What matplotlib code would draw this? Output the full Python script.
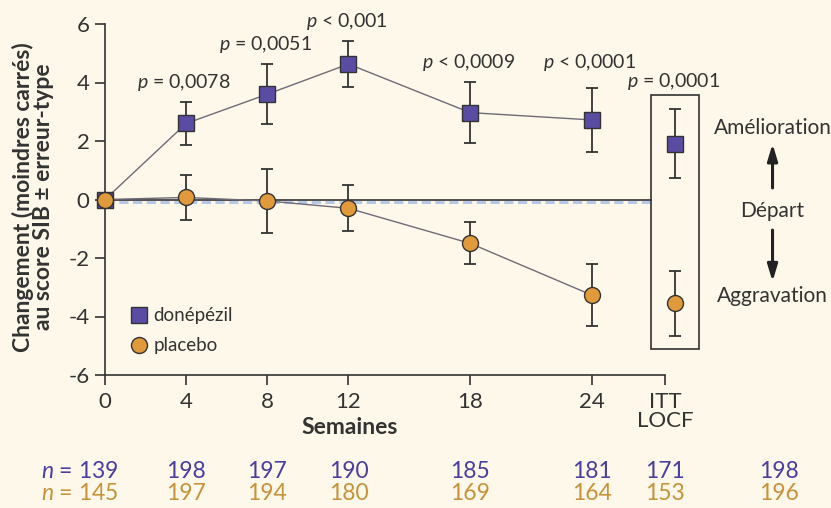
import matplotlib
matplotlib.use("Agg")
import matplotlib.pyplot as plt
import matplotlib.transforms as mtransforms
from matplotlib.patches import Rectangle

plt.rcParams["font.family"] = ["Lato", "DejaVu Sans"]
plt.rcParams["mathtext.fontset"] = "custom"
plt.rcParams["mathtext.it"] = "Lato:italic"
plt.rcParams["mathtext.rm"] = "Lato"

# ── données ─────────────────────────────────────────────
semaines = [0, 4, 8, 12, 18, 24]
donepezil = [0.0, 2.6, 3.6, 4.63, 2.97, 2.72]
donepezil_err = [0.0, 0.75, 1.02, 0.8, 1.05, 1.1]
placebo = [0.0, 0.07, -0.05, -0.3, -1.5, -3.27]
placebo_err = [0.0, 0.78, 1.08, 0.78, 0.72, 1.05]

itt_donepezil, itt_donepezil_err = 1.9, 1.18
itt_placebo, itt_placebo_err = -3.55, 1.1

p_labels = ["$p$ = 0,0078", "$p$ = 0,0051", "$p$ < 0,001",
            "$p$ < 0,0009", "$p$ < 0,0001", "$p$ = 0,0001"]

n_donepezil = ["139", "198", "197", "190", "185", "181", "171", "198"]
n_placebo = ["145", "197", "194", "180", "169", "164", "153", "196"]

# positions (layout)
x_itt_tick = 27.6
x_itt = 28.1
x_droite = 32.9
p_pos = [(3.9, 4.0), (7.9, 5.3), (11.9, 6.1), (17.9, 4.7), (23.9, 4.7), (28.0, 4.05)]
n_x = semaines + [x_itt_tick, 33.2]

VIOLET = "#5A4BA3"
ORANGE = "#E09A3B"
TXT_V = "#4A3E9E"
TXT_O = "#C8923A"
GRIS = "#333333"
FOND = "#FEF8EA"

fig = plt.figure(figsize=(8.31, 5.08), dpi=100, facecolor=FOND)
ax = fig.add_axes([105 / 831, 1 - 375 / 508, 560 / 831, 351 / 508])
ax.set_facecolor(FOND)
ax.set_xlim(0, x_itt_tick)
ax.set_ylim(-6, 6)

# lignes de départ
ax.plot([0, 26.9], [-0.1, -0.1], color="#B5C8E6", lw=2.2, ls=(0, (3, 1.5)), zorder=1, clip_on=False)
ax.plot([0, 26.9], [0, 0], color=GRIS, lw=1.2, zorder=2, clip_on=False)

# séries
ax.plot(semaines, donepezil, color="#6E6A78", lw=1, zorder=3)
ax.plot(semaines, placebo, color="#6E6A78", lw=1, zorder=3)
ax.errorbar(semaines[1:] + [x_itt], donepezil[1:] + [itt_donepezil],
            yerr=donepezil_err[1:] + [itt_donepezil_err], fmt="none",
            ecolor=GRIS, elinewidth=1.3, capsize=4, capthick=1.3, zorder=4, clip_on=False)
ax.errorbar(semaines[1:] + [x_itt], placebo[1:] + [itt_placebo],
            yerr=placebo_err[1:] + [itt_placebo_err], fmt="none",
            ecolor=GRIS, elinewidth=1.3, capsize=4, capthick=1.3, zorder=4, clip_on=False)
ax.plot(semaines + [x_itt], donepezil + [itt_donepezil], ls="none", marker="s", ms=11,
        mfc=VIOLET, mec=GRIS, mew=1, zorder=5, clip_on=False)
ax.plot(semaines + [x_itt], placebo + [itt_placebo], ls="none", marker="o", ms=11.5,
        mfc=ORANGE, mec=GRIS, mew=1, zorder=6, clip_on=False)

# cadre ITT/LOCF
ax.add_patch(Rectangle((26.9, -5.11), 2.36, 8.68, fill=False, ec=GRIS, lw=1.2, clip_on=False))

# valeurs p
for (px, py), lab in zip(p_pos, p_labels):
    ax.text(px, py, lab, ha="center", va="center", fontsize=14, color=GRIS, clip_on=False)

# axes
for s in ["top", "right"]:
    ax.spines[s].set_visible(False)
for s in ["left", "bottom"]:
    ax.spines[s].set_color(GRIS)
    ax.spines[s].set_linewidth(1.2)
ax.set_xticks(semaines + [x_itt_tick])
ax.set_xticklabels([str(s) for s in semaines] + ["ITT\nLOCF"])
ax.set_yticks([-6, -4, -2, 0, 2, 4, 6])
ax.set_yticklabels(["-6", "-4", "-2", "0", "2", "4", "6"])
ax.tick_params(colors=GRIS, labelcolor=GRIS, labelsize=16, length=7, width=1.2, direction="out")
ax.tick_params(axis="x", pad=5)
ax.tick_params(axis="y", pad=4)
for t in ax.get_xticklabels():
    t.set_linespacing(0.95)
    t.set_va("top")

fig.text(350 / 831, 1 - 428 / 508, "Semaines", ha="center", va="center",
         fontsize=16.5, fontweight="bold", color=GRIS)
fig.text(33 / 831, 1 - 197 / 508, "Changement (moindres carrés)\nau score SIB ± erreur-type",
         rotation=90, ha="center", va="center", ma="center", fontsize=16.5,
         fontweight="bold", color=GRIS, linespacing=0.95)

# légende
ax.plot([1.7], [-3.95], ls="none", marker="s", ms=11, mfc=VIOLET, mec=GRIS, mew=1)
ax.plot([1.7], [-4.98], ls="none", marker="o", ms=11.5, mfc=ORANGE, mec=GRIS, mew=1)
ax.text(2.4, -3.95, "donépézil", va="center", fontsize=13.5, color=GRIS)
ax.text(2.4, -4.98, "placebo", va="center", fontsize=13.5, color=GRIS)

# annotations à droite
ax.text(x_droite, 2.45, "Amélioration", ha="center", va="center", fontsize=15, color=GRIS, clip_on=False)
ax.text(x_droite, -0.4, "Départ", ha="center", va="center", fontsize=15, color=GRIS, clip_on=False)
ax.text(x_droite, -3.3, "Aggravation", ha="center", va="center", fontsize=15, color=GRIS, clip_on=False)
ax.annotate("", xy=(x_droite, 2.0), xytext=(x_droite, 0.3), annotation_clip=False,
            arrowprops=dict(arrowstyle="-|>,head_length=1.0,head_width=0.3", color="#222222", lw=2.2))
ax.annotate("", xy=(x_droite, -2.9), xytext=(x_droite, -0.95), annotation_clip=False,
            arrowprops=dict(arrowstyle="-|>,head_length=1.0,head_width=0.3", color="#222222", lw=2.2))

# effectifs
trans = mtransforms.blended_transform_factory(ax.transData, fig.transFigure)
y1, y2 = 1 - 471 / 508, 1 - 494 / 508
ax.text(0.65, y1, "$n$ = 139", transform=trans, ha="right", va="center", fontsize=16.5, color=TXT_V)
ax.text(0.65, y2, "$n$ = 145", transform=trans, ha="right", va="center", fontsize=16.5, color=TXT_O)
for x, a, b in zip(n_x[1:], n_donepezil[1:], n_placebo[1:]):
    ax.text(x, y1, a, transform=trans, ha="center", va="center", fontsize=16.5, color=TXT_V)
    ax.text(x, y2, b, transform=trans, ha="center", va="center", fontsize=16.5, color=TXT_O)

fig.savefig("out.png", dpi=100, facecolor=FOND)
